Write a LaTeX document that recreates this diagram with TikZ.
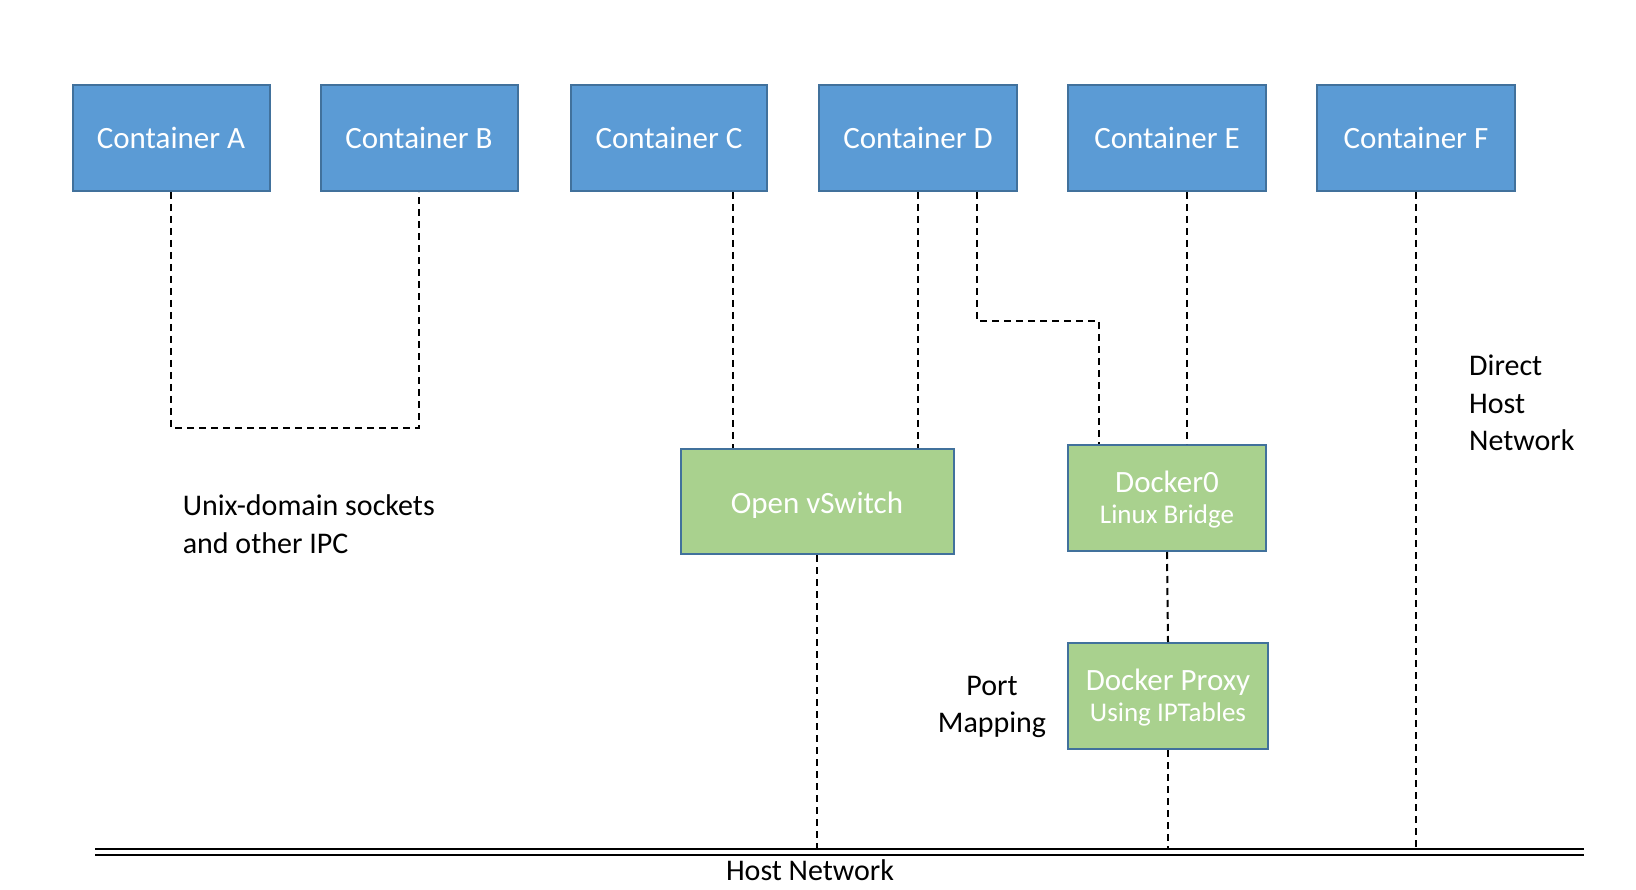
\documentclass[tikz,border=0pt]{standalone}
\usepackage{fontspec}
\setmainfont{Carlito}
\usetikzlibrary{calc}
\definecolor{boxblue}{HTML}{5B9BD5}
\definecolor{boxgreen}{HTML}{A9D18E}
\definecolor{edge}{HTML}{41719C}
\newcommand{\lowerby}[2]{\raisebox{-#1}[\height][\depth]{#2}}
\tikzset{
  cbox/.style={draw=edge, line width=2pt, fill=boxblue, text=white, minimum width=198pt, minimum height=106pt, inner sep=0pt, font=\fontsize{31}{36}\selectfont, align=center},
  gbox/.style={draw=edge, line width=2pt, fill=boxgreen, text=white, minimum height=106pt, inner sep=0pt, font=\fontsize{31}{35}\selectfont, align=center},
  link/.style={draw=black, line width=2pt, dash pattern=on 7pt off 5pt},
  lbl/.style={text=black, font=\fontsize{30}{37.6}\selectfont, inner sep=0pt}
}
\begin{document}
\begin{tikzpicture}[x=1pt,y=-1pt]
\useasboundingbox (0,0) rectangle (1636,890);
\node[cbox, minimum width=197pt] (A) at (171,138) {Container A};
\node[cbox, minimum width=197pt] (B) at (419,138) {Container B};
\node[cbox, minimum width=196pt] (C) at (669,138) {Container C};
\node[cbox] (D) at (918,138) {Container D};
\node[cbox] (E) at (1167,138) {Container E};
\node[cbox] (F) at (1416,138) {Container F};
\node[gbox, minimum width=273pt, minimum height=105pt] (ovs) at (817,501.5) {\lowerby{4pt}{Open vSwitch}};
\node[gbox, minimum width=198pt] (dock) at (1167,498) {\lowerby{3pt}{\begin{tabular}{@{}c@{}}Docker0\\[-4pt]{\fontsize{27}{30}\selectfont Linux Bridge}\end{tabular}}};
\node[gbox, minimum width=200pt] (proxy) at (1168,696) {\lowerby{3pt}{\begin{tabular}{@{}c@{}}Docker Proxy\\[-4pt]{\fontsize{27}{30}\selectfont Using IPTables}\end{tabular}}};
\coordinate (hnL) at (95,849);
\coordinate (hnR) at (1584,849);
\coordinate (hnL2) at (95,855);
\coordinate (hnR2) at (1584,855);
\draw[line width=2pt] (hnL) -- (hnR);
\draw[line width=2pt] (hnL2) -- (hnR2);
\node[lbl] (hn) at (810,870) {Host Network};
\coordinate (ipc) at (419,428);
\draw[link] (A.south) |- (ipc) -- (B.south);
\draw[link] ([xshift=64]C.south) -- ([xshift=64]C.south |- ovs.north);
\draw[link] (D.south) -- (D.south |- ovs.north);
\draw[link] ([xshift=59]D.south) -- ++(0,129) -| ([xshift=-68]dock.north);
\draw[link] ([xshift=20]E.south) -- ([xshift=20]E.south |- dock.north);
\draw[link] (F.south) -- (F.south |- hnL);
\draw[link] (ovs.south) -- (ovs.south |- hnL);
\draw[link] (dock.south) -- (proxy.north);
\draw[link] (proxy.south) -- (proxy.south |- hnL);
\node[lbl, anchor=west, align=left] (ipclbl) at (182.6,524) {Unix-domain sockets\\and other IPC};
\node[lbl, anchor=west, align=left] (direct) at (1469,403) {Direct\\Host\\Network};
\node[lbl, align=center] (port) at (992,707) {Port\\Mapping};
\end{tikzpicture}
\end{document}
